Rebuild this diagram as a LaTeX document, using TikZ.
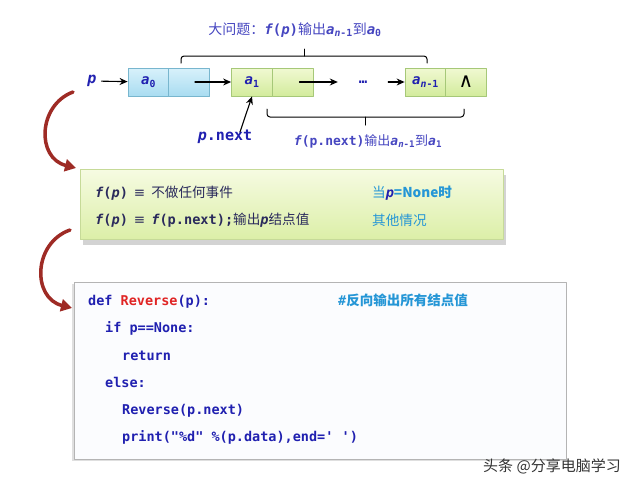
\documentclass[tikz,border=0pt]{standalone}
\usepackage{fontspec}
\setmonofont{DejaVu Sans Mono}
\newfontfamily\cjk{Noto Sans CJK SC}
\newfontfamily\symb{DejaVu Sans}
\usetikzlibrary{arrows.meta,positioning,shadows}
\definecolor{varblue}{HTML}{2020B0}
\definecolor{titleblue}{HTML}{4646C0}
\definecolor{darkink}{HTML}{2A2A5C}
\definecolor{cyanink}{HTML}{2596D6}
\definecolor{codered}{HTML}{E02424}
\definecolor{cellblueline}{HTML}{78B6CE}
\definecolor{cellbluetop}{HTML}{D8F1FB}
\definecolor{cellbluebot}{HTML}{A9DCF1}
\definecolor{cellgreenline}{HTML}{A6C878}
\definecolor{cellgreentop}{HTML}{F0F9D2}
\definecolor{cellgreenbot}{HTML}{D3EB9C}
\definecolor{ruletop}{HTML}{F6FBE2}
\definecolor{rulebot}{HTML}{DCEFA8}
\definecolor{ruleline}{HTML}{C6DA98}
\definecolor{codefill}{HTML}{FBFCFE}
\definecolor{codeline}{HTML}{B4B4B4}
\definecolor{bendred}{HTML}{9E2B25}
\newcommand\vb[1]{{\ttfamily\bfseries\itshape #1}}
\newcommand\cb[1]{{\ttfamily\bfseries #1}}
\newcommand\fp{\vb{f}\cb{(}\vb{p}\cb{)}}
\newcommand\ann{\vb{a}\textsubscript{\vb{n}\cb{-1}}}
\tikzset{
    every picture/.style={line cap=round,line join=round},
    bluecell/.style={draw=cellblueline,top color=cellbluetop,bottom color=cellbluebot,
      line width=0.8pt,minimum width=41pt,minimum height=28pt,inner sep=0pt,
      text=varblue,font=\fontsize{14}{16}\selectfont},
    greencell/.style={bluecell,draw=cellgreenline,top color=cellgreentop,
      bottom color=cellgreenbot},
    listarrow/.style={-{Stealth[length=8pt,width=7pt]},line width=1.1pt,draw=black},
    bracket/.style={draw=black,line width=1pt,rounded corners=3pt},
    label/.style={inner sep=0pt,text=titleblue,font=\fontsize{14}{16}\selectfont},
    rulebox/.style={draw=ruleline,top color=ruletop,bottom color=rulebot,line width=0.6pt,
      minimum width=423pt,minimum height=70pt,
      drop shadow={shadow xshift=3pt,shadow yshift=-6pt,opacity=0.35,fill=gray}},
    ruletext/.style={anchor=west,inner sep=0pt,text=darkink,
      font=\fontsize{13.6}{16}\selectfont},
    codebox/.style={draw=codeline,fill=codefill,line width=0.8pt,
      minimum width=492pt,minimum height=177pt,
      drop shadow={shadow xshift=-2pt,shadow yshift=-2pt,opacity=0.25,fill=gray}},
    codeline/.style={anchor=west,inner sep=0pt,text height=10pt,text depth=3pt,
      text=varblue,font=\fontsize{13.5}{16}\selectfont\ttfamily\bfseries},
    bendarrow/.style={-{Triangle[length=11pt,width=12pt]},line width=3.5pt,draw=bendred}
}
\begin{document}
\begin{tikzpicture}[x=1pt,y=-1pt]
  \useasboundingbox (0,0) rectangle (640,491);
  % linked list
  \node[label] (title) at (295,30) {{\cjk 大问题：}\fp{\cjk 输出}\ann{\cjk 到}\vb{a}\textsubscript{\cb{0}}};
  \node[label,text=varblue,font=\fontsize{15}{17}\selectfont,outer sep=5pt] (p) at (92,81) {\vb{p}};
  \node[bluecell] (a0d) at (148.5,82) {\vb{a}\textsubscript{\cb{0}}};
  \node[bluecell] (a0n) at (189,82) {};
  \node[greencell] (a1d) at (252,82) {\vb{a}\textsubscript{\cb{1}}};
  \node[greencell] (a1n) at (292.5,82) {};
  \node[label,text=varblue,minimum width=50pt] (dots) at (363,82) {\cb{…}};
  \node[greencell] (and) at (425.5,82) {\ann};
  \node[greencell,text=black] (ann) at (466,82) {\symb\fontsize{20}{22}\selectfont ∧};
  \draw[listarrow] (p) -- (a0d);
  \draw[listarrow] ([xshift=6pt]a0n.center) -- (a1d);
  \draw[listarrow] ([xshift=7pt]a1n.center) -- (dots);
  \draw[listarrow] (dots) -- (and);
  \node[label,text=varblue,font=\fontsize{15}{17}\selectfont] (pnext) at (225,137) {\vb{p}\cb{.next}};
  \draw[listarrow] ([xshift=15pt,yshift=-2pt]pnext.north) -- (a1d.south);
  \node[label,font=\fontsize{13}{15}\selectfont] (sub) at (368,141) {\vb{f}\cb{(p.next)}{\cjk 输出}\ann{\cjk 到}\vb{a}\textsubscript{\cb{1}}};
  % braces
  \draw[bracket] (181,63) -- (181,56) -- (427,56) -- (427,63);
  \draw[bracket] (304,56) -- (304,49);
  \draw[bracket] (267,109) -- (267,117) -- (464,117) -- (464,109);
  \draw[bracket] (365,117) -- (365,125);
  % recursion rule
  \node[rulebox] (rule) at (291.5,204) {};
  \node[ruletext] (r1) at (95,193) {\fp\hspace{6pt}{\symb ≡}\hspace{6pt}{\cjk 不做任何事件}};
  \node[ruletext] (r2) at (95,220) {\fp\hspace{6pt}{\symb ≡}\hspace{6pt}\vb{f}\cb{(p.next);}{\cjk 输出}\vb{p}{\cjk 结点值}};
  \node[ruletext,text=cyanink] (c1) at (372,193) {{\cjk 当}\vb{\color{varblue}p}{\cjk\bfseries =None时}};
  \node[ruletext,text=cyanink] (c2) at (372,220) {{\cjk 其他情况}};
  % python code
  \node[codebox] (code) at (320,370.5) {};
  \node[codeline] (l1) at (88,302) {def {\color{codered}Reverse}(p):};
  \node[codeline,text=cyanink] (cm) at (338,302) {\#{\cjk 反向输出所有结点值}};
  \node[codeline] (l2) at (105,329) {if p==None:};
  \node[codeline] (l3) at (122,357) {return};
  \node[codeline] (l4) at (105,384) {else:};
  \node[codeline] (l5) at (122,411) {Reverse(p.next)};
  \node[codeline] (l6) at (122,438) {print("\%d" \%(p.data),end=' ')};
  % bends between the parts
  \coordinate (b1s) at (73,92);
  \coordinate (b1e) at (76,168);
  \coordinate (b2s) at (70,230);
  \coordinate (b2e) at (72,308);
  \draw[bendarrow] (b1s) .. controls (38,105) and (36,158) .. (b1e);
  \draw[bendarrow] (b2s) .. controls (33,243) and (32,298) .. (b2e);
  \node[inner sep=0pt,text=black!80,font=\fontsize{15}{17}\selectfont\cjk] (mark) at (552,466) {头条 @分享电脑学习};
\end{tikzpicture}
\end{document}
